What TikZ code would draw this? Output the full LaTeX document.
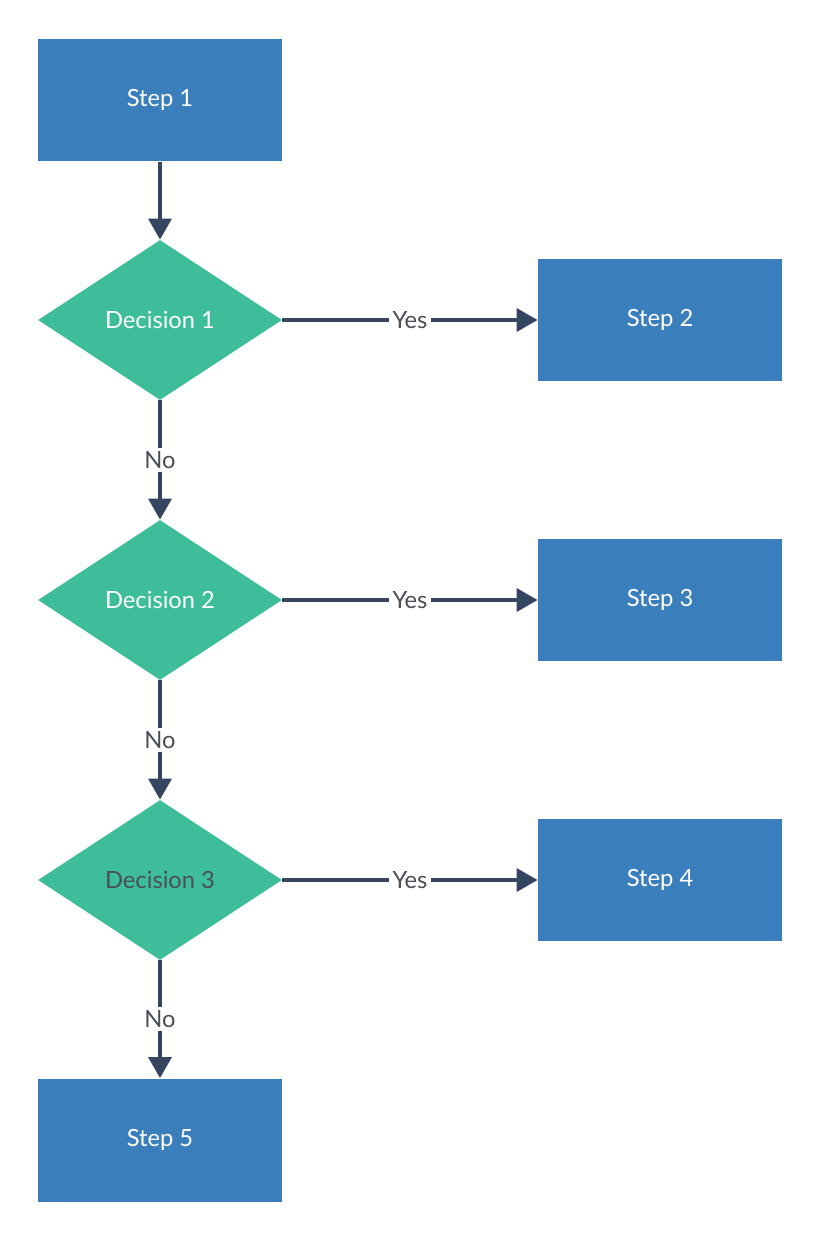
\documentclass[tikz,border=0pt]{standalone}
\usepackage{fontspec}
\setmainfont{Lato}
\usetikzlibrary{shapes.geometric,arrows.meta}

\definecolor{stepblue}{HTML}{3A7FBB}
\definecolor{decgreen}{HTML}{3DBD9A}
\definecolor{linecol}{HTML}{36455F}
\definecolor{labelcol}{HTML}{4A4F57}

\tikzset{
  stepbox/.style={rectangle, fill=stepblue, text=white, minimum width=4.88cm, minimum height=2.46cm, font=\fontsize{13.5}{16}\selectfont},
  decision/.style={diamond, fill=decgreen, text=white, aspect=1.525, inner sep=0pt, minimum width=4.88cm, minimum height=3.2cm, font=\fontsize{13.5}{16}\selectfont},
  flow/.style={line width=2.3pt, draw=linecol, -{Triangle[length=12pt,width=13pt]}},
  lbl/.style={fill=white, text=labelcol, inner sep=2pt, font=\fontsize{13.5}{16}\selectfont}
}

\begin{document}
\begin{tikzpicture}[x=0.02cm, y=-0.02cm]
  \useasboundingbox (0,0) rectangle (821,1240);

  \node[stepbox] (s1) at (160,100) {Step 1};
  \node[decision] (d1) at (160,320) {Decision 1};
  \node[stepbox] (s2) at (660,320) {Step 2};
  \node[decision] (d2) at (160,600) {Decision 2};
  \node[stepbox] (s3) at (660,600) {Step 3};
  \node[decision, text=labelcol] (d3) at (160,880) {Decision 3};
  \node[stepbox] (s4) at (660,880) {Step 4};
  \node[stepbox] (s5) at (160,1140) {Step 5};

  \draw[flow] (s1) -- (d1);
  \draw[flow] (d1) -- node[lbl, pos=0.5] {No} (d2);
  \draw[flow] (d2) -- node[lbl, pos=0.5] {No} (d3);
  \draw[flow] (d3) -- node[lbl, pos=0.5] {No} (s5);
  \draw[flow] (d1) -- node[lbl, pos=0.5] {Yes} (s2);
  \draw[flow] (d2) -- node[lbl, pos=0.5] {Yes} (s3);
  \draw[flow] (d3) -- node[lbl, pos=0.5] {Yes} (s4);
\end{tikzpicture}
\end{document}
